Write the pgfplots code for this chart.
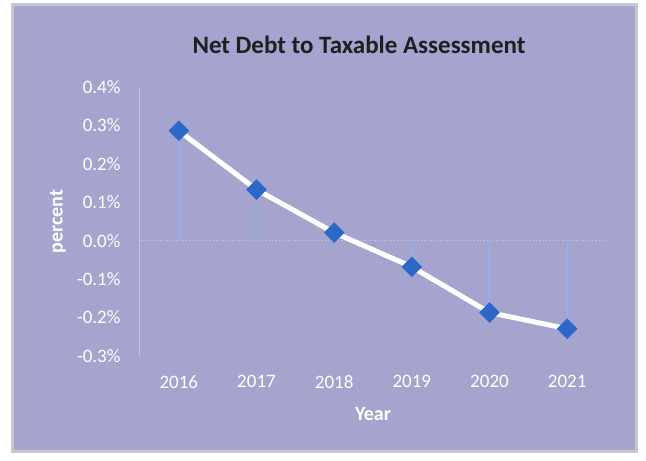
\documentclass[border=0pt]{standalone}
\usepackage{fontspec}
\setmainfont{Carlito}
\usepackage{pgfplots}
\pgfplotsset{compat=1.18}
\definecolor{bg}{RGB}{164,164,206}
\definecolor{bordergray}{RGB}{200,200,208}
\definecolor{mk}{RGB}{44,104,200}
\definecolor{drop}{RGB}{140,176,232}
\definecolor{axl}{RGB}{196,196,226}
\begin{document}
\begin{tikzpicture}[x=1pt,y=1pt]
\useasboundingbox (0,0) rectangle (646,461);
\fill[white] (0,0) rectangle (646,461);
\draw[bordergray, line width=3pt, fill=bg] (12,9) rectangle (636,456);
\node[font=\bfseries\fontsize{25}{29}\selectfont, text=black!88] at (359,416) {Net Debt to Taxable Assessment};
\begin{axis}[
  at={(140pt,105pt)}, anchor=south west,
  scale only axis, width=466pt, height=269pt,
  xmin=-0.5, xmax=5.5, ymin=-0.3, ymax=0.4,
  axis y line=left, axis x line=bottom,
  x axis line style={draw=none},
  y axis line style={draw=axl, line width=1pt, -},
  major tick length=0pt,
  xtick={0,1,2,3,4,5},
  xticklabels={2016,2017,2018,2019,2020,2021},
  ytick={-0.3,-0.2,-0.1,0,0.1,0.2,0.3,0.4},
  yticklabel={\pgfmathprintnumber[fixed,fixed zerofill,precision=1]{\tick}\%},
  /pgf/number format/assume math mode=true,
  tick label style={text=white, font=\fontsize{19}{23}\selectfont},
  xticklabel style={yshift=-16pt},
  yticklabel style={xshift=-16pt},
  xlabel={Year}, ylabel={percent},
  label style={text=white, font=\bfseries\fontsize{20}{24}\selectfont},
  xlabel style={at={(axis description cs:0.5,-0.2156)}, anchor=center},
  ylabel style={at={(axis description cs:-0.176,0.5)}, anchor=center, rotate=0},
  clip=false,
]
\addplot[axl, dotted, line width=1.3pt, mark=none] coordinates {(-0.5,0) (5.5,0)};
\addplot[ycomb, drop, line width=2pt, mark=none] coordinates {
  (0,0.286) (1,0.133) (2,0.021) (3,-0.068) (4,-0.187) (5,-0.229)};
\addplot[white, line width=5pt, mark=square*, mark size=7pt,
  mark options={fill=mk, draw=mk, rotate=45, line width=0.5pt}] coordinates {
  (0,0.286) (1,0.133) (2,0.021) (3,-0.068) (4,-0.187) (5,-0.229)};
\end{axis}
\end{tikzpicture}
\end{document}
